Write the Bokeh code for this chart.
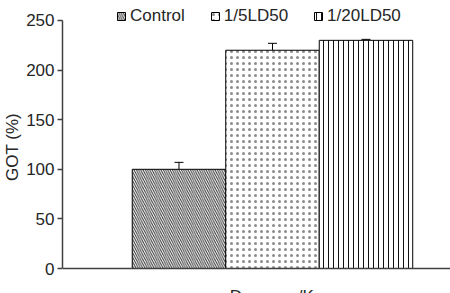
from bokeh.plotting import figure
from bokeh.models import ColumnDataSource, Legend, LegendItem, Whisker, Label, Span, FixedTicker, Range1d
from bokeh.embed import file_html
from bokeh.resources import INLINE

categories = ["Control", "1/5LD50", "1/20LD50"]
values = [100, 220, 230]
errors = [7, 7, 1]
y_ticks = [0, 50, 100, 150, 200, 250]
x_label = "Dose mg/Kg"
y_label = "GOT (%)"

xpos = [1, 2, 3]
FONT = "Liberation Sans"
TXT = "#262626"

p = figure(width=450, height=293, output_backend="svg", toolbar_location=None,
           x_range=Range1d(-0.246, 3.904), y_range=Range1d(-25.2, 270.16),
           min_border_left=62, min_border_right=0, min_border_top=0, min_border_bottom=0)
p.outline_line_color = None
p.background_fill_color = "white"
p.border_fill_color = "white"
p.xgrid.visible = False
p.ygrid.visible = False
p.xaxis.visible = False

hatches = ["left_diagonal_line", "dot", "vertical_line"]
hcolors = ["#333333", "#8c8c8c", "#111111"]
hscales = [4.5, 6, 5]
hweights = [1, 1, 1]
renderers = []
for i in range(3):
    src = ColumnDataSource(dict(x=[xpos[i]], top=[values[i]]))
    r = p.vbar(x="x", top="top", width=1.0, bottom=0, source=src,
               fill_color="white", line_color="black", line_width=1,
               hatch_pattern=hatches[i], hatch_color=hcolors[i],
               hatch_scale=hscales[i], hatch_weight=hweights[i])
    renderers.append(r)

esrc = ColumnDataSource(dict(x=xpos, lower=values, upper=[v + e for v, e in zip(values, errors)]))
w = Whisker(base="x", lower="lower", upper="upper", source=esrc, dimension="height",
            line_color="black", line_width=1, lower_head=None)
w.upper_head.size = 9
w.upper_head.line_color = "black"
p.add_layout(w)

# baseline (x axis line)
p.add_layout(Span(location=0, dimension="width", line_color="#404040", line_width=1.5))

# y axis
p.yaxis.bounds = (0, 250)
p.yaxis.ticker = FixedTicker(ticks=y_ticks)
p.yaxis.axis_label = y_label
p.yaxis.axis_label_text_font = FONT
p.yaxis.axis_label_text_font_style = "normal"
p.yaxis.axis_label_text_font_size = "17px"
p.yaxis.axis_label_text_color = TXT
p.yaxis.axis_label_standoff = 1
p.yaxis.major_label_text_font = FONT
p.yaxis.major_label_text_font_size = "17px"
p.yaxis.major_label_text_color = TXT
p.yaxis.major_label_standoff = 3
p.yaxis.major_tick_out = 5
p.yaxis.major_tick_in = 0
p.yaxis.minor_tick_out = 0
p.yaxis.minor_tick_in = 0
p.yaxis.axis_line_color = "#404040"
p.yaxis.axis_line_width = 1.5
p.yaxis.major_tick_line_color = "#404040"
p.yaxis.major_tick_line_width = 1.5

lab = Label(x=2.043, y=-18.6, text=x_label, text_font=FONT, text_font_size="17px",
            text_color=TXT, text_align="center", text_baseline="top")
p.add_layout(lab)

legend = Legend(items=[LegendItem(label=categories[i], renderers=[renderers[i]]) for i in range(3)],
                orientation="horizontal", location=(54, 267),
                glyph_width=10, glyph_height=10, label_height=16, label_standoff=4,
                spacing=25, padding=0, margin=0,
                label_text_font=FONT, label_text_font_size="17px", label_text_color=TXT,
                border_line_color=None, background_fill_color=None)
p.add_layout(legend)

open("out.html", "w").write(file_html(p, INLINE))
